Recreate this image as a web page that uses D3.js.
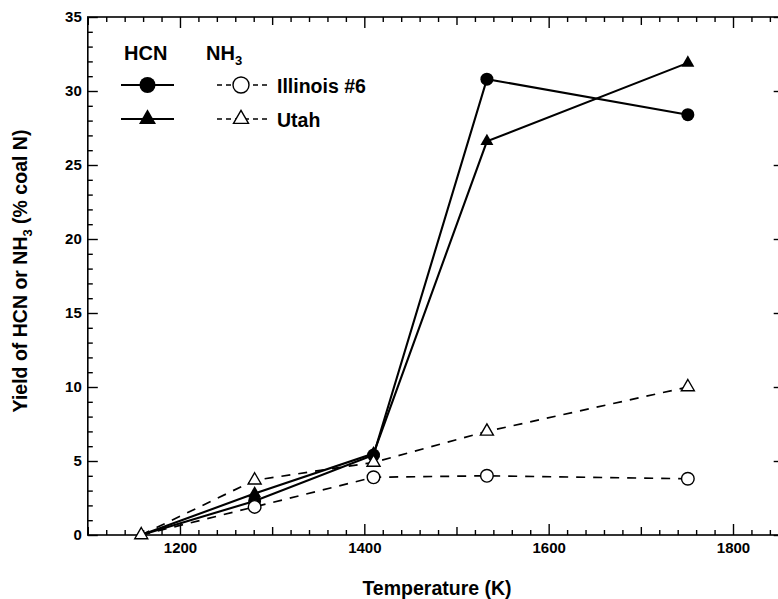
<!DOCTYPE html>
<html>
<head>
<meta charset="utf-8">
<script src="https://cdn.jsdelivr.net/npm/d3@7"></script>
<style>
  html, body { margin: 0; padding: 0; background: #fff; }
  svg { display: block; }
  text { font-family: "Liberation Sans", Arial, Helvetica, sans-serif; font-weight: bold; fill: #000; }
</style>
</head>
<body>
<svg id="chart" width="778" height="599"></svg>
<script>
// Temperature (K) of each measurement
const temps = [1158, 1281, 1410, 1533, 1751];

// Yields, % of coal nitrogen
const hcnIllinois = [0, 2.3, 5.4, 30.8, 28.4];
const hcnUtah     = [0, 2.8, 5.5, 26.6, 31.9];
const nh3Illinois = [0, 1.9, 3.9, 4.0, 3.8];
const nh3Utah     = [0, 3.7, 4.9, 7.0, 10.0];

// Axis ticks
const xMajorTicks = [1200, 1400, 1600, 1800];
const yMajorTicks = [0, 5, 10, 15, 20, 25, 30, 35];

const svg = d3.select("#chart");

const x = d3.scaleLinear().domain([1100, 1855]).range([87.8, 783.7]);
const y = d3.scaleLinear().domain([0, 35]).range([535, 17]);

const xMid = d3.range(1100, 1856, 100).filter(v => !xMajorTicks.includes(v));
const xMinor = d3.range(1100, 1856, 20).filter(v => v % 100 !== 0);
const yMinor = d3.range(0, 36, 1).filter(v => v % 5 !== 0);

function styleAxis(g) {
  g.select(".domain").remove();
  g.selectAll(".tick line").attr("stroke", "#000").attr("stroke-width", 1.4);
}

// Frame
svg.append("rect")
  .attr("x", x.range()[0]).attr("y", y.range()[1])
  .attr("width", x.range()[1] - x.range()[0])
  .attr("height", y.range()[0] - y.range()[1])
  .attr("fill", "none").attr("stroke", "#000").attr("stroke-width", 1.6);

// Bottom axis: labelled ticks, mid ticks, minor ticks (all pointing inward)
const axisBottomG = svg.append("g").attr("transform", `translate(0,${y(0)})`);
axisBottomG.append("g").call(d3.axisBottom(x).tickValues(xMajorTicks).tickSizeInner(-11).tickSizeOuter(0).tickPadding(7).tickFormat(d3.format("d")))
  .call(styleAxis)
  .call(g => g.selectAll("text").attr("font-size", 15));
axisBottomG.append("g").call(d3.axisBottom(x).tickValues(xMid).tickSizeInner(-8).tickSizeOuter(0).tickFormat("")).call(styleAxis);
axisBottomG.append("g").call(d3.axisBottom(x).tickValues(xMinor).tickSizeInner(-5).tickSizeOuter(0).tickFormat("")).call(styleAxis);

// Top axis mirrors bottom ticks
const axisTopG = svg.append("g").attr("transform", `translate(0,${y(35)})`);
axisTopG.append("g").call(d3.axisTop(x).tickValues(xMajorTicks).tickSizeInner(-11).tickSizeOuter(0).tickFormat("")).call(styleAxis);
axisTopG.append("g").call(d3.axisTop(x).tickValues(xMid).tickSizeInner(-8).tickSizeOuter(0).tickFormat("")).call(styleAxis);
axisTopG.append("g").call(d3.axisTop(x).tickValues(xMinor).tickSizeInner(-5).tickSizeOuter(0).tickFormat("")).call(styleAxis);

// Left axis
const axisLeftG = svg.append("g").attr("transform", `translate(${x.range()[0]},0)`);
axisLeftG.append("g").call(d3.axisLeft(y).tickValues(yMajorTicks).tickSizeInner(-10).tickSizeOuter(0).tickPadding(6).tickFormat(d3.format("d")))
  .call(styleAxis)
  .call(g => g.selectAll("text").attr("font-size", 15));
axisLeftG.append("g").call(d3.axisLeft(y).tickValues(yMinor).tickSizeInner(-5).tickSizeOuter(0).tickFormat("")).call(styleAxis);

// Right axis
const axisRightG = svg.append("g").attr("transform", `translate(${x.range()[1]},0)`);
axisRightG.append("g").call(d3.axisRight(y).tickValues(yMajorTicks).tickSizeInner(-10).tickSizeOuter(0).tickFormat("")).call(styleAxis);
axisRightG.append("g").call(d3.axisRight(y).tickValues(yMinor).tickSizeInner(-5).tickSizeOuter(0).tickFormat("")).call(styleAxis);

// Axis titles
svg.append("text")
  .attr("x", 437).attr("y", 595)
  .attr("text-anchor", "middle").attr("font-size", 19.5)
  .text("Temperature (K)");

const yTitle = svg.append("text")
  .attr("transform", "translate(27,271) rotate(-90)")
  .attr("text-anchor", "middle").attr("font-size", 19.5);
yTitle.append("tspan").text("Yield of HCN or NH");
yTitle.append("tspan").attr("font-size", 13).attr("dy", 5).text("3");
yTitle.append("tspan").attr("dy", -5).text(" (% coal N)");

// Series; the shared zero-yield origin carries a single (open triangle) marker
const series = [
  { name: "hcnIllinois", values: hcnIllinois, dashed: false, shape: "circle",   filled: true,  markOrigin: false },
  { name: "hcnUtah",     values: hcnUtah,     dashed: false, shape: "triangle", filled: true,  markOrigin: false },
  { name: "nh3Illinois", values: nh3Illinois, dashed: true,  shape: "circle",   filled: false, markOrigin: false },
  { name: "nh3Utah",     values: nh3Utah,     dashed: true,  shape: "triangle", filled: false, markOrigin: true }
];

const line = d3.line().x(d => x(d[0])).y(d => y(d[1]));

const plot = svg.append("g");

// Lines: dashed NH3 underneath, solid HCN above
series.slice().sort((a, b) => b.dashed - a.dashed).forEach(s => {
  plot.append("path")
    .datum(temps.map((t, i) => [t, s.values[i]]))
    .attr("d", line)
    .attr("fill", "none")
    .attr("stroke", "#000")
    .attr("stroke-width", s.dashed ? 1.7 : 2.1)
    .attr("stroke-dasharray", s.dashed ? "9,8" : null);
});

function drawMarker(g, s, cx, cy, big) {
  if (s.shape === "circle") {
    g.append("circle")
      .attr("cx", cx).attr("cy", cy)
      .attr("r", big ? 8 : (s.filled ? 6.5 : 6.3))
      .attr("fill", s.filled ? "#000" : "#fff")
      .attr("stroke", "#000").attr("stroke-width", s.filled ? 0 : 1.4);
  } else {
    const side = big ? (s.filled ? 17 : 15) : 13;
    g.append("path")
      .attr("transform", `translate(${cx},${cy})`)
      .attr("d", d3.symbol().type(d3.symbolTriangle).size(Math.sqrt(3) / 4 * side * side)())
      .attr("fill", s.filled ? "#000" : "#fff")
      .attr("stroke", "#000").attr("stroke-width", s.filled ? 0 : 1.4);
  }
}

// Markers: filled first, open ones on top
[...series.filter(s => s.filled), ...series.filter(s => !s.filled)].forEach(s => {
  temps.forEach((t, i) => {
    if (i === 0 && !s.markOrigin) return;
    drawMarker(plot, s, x(t), y(s.values[i]), false);
  });
});

// Legend
const legend = svg.append("g");
legend.append("text").attr("x", 124).attr("y", 60).attr("font-size", 20).text("HCN");
const nh = legend.append("text").attr("x", 206).attr("y", 60).attr("font-size", 20);
nh.append("tspan").text("NH");
nh.append("tspan").attr("font-size", 13).attr("dy", 5).text("3");

const legendRows = [
  { solid: series[0], open: series[2], label: "Illinois #6", cy: 85 },
  { solid: series[1], open: series[3], label: "Utah", cy: 119 }
];
legendRows.forEach(r => {
  legend.append("line")
    .attr("x1", 121).attr("x2", 174).attr("y1", r.cy).attr("y2", r.cy)
    .attr("stroke", "#000").attr("stroke-width", 2.1);
  drawMarker(legend, r.solid, 147.5, r.cy, true);
  legend.append("line")
    .attr("x1", 217).attr("x2", 270).attr("y1", r.cy).attr("y2", r.cy)
    .attr("stroke", "#000").attr("stroke-width", 1.5)
    .attr("stroke-dasharray", "5,4");
  drawMarker(legend, r.open, 241, r.cy, true);
  legend.append("text").attr("x", 277).attr("y", r.cy + 8).attr("font-size", 19.5).text(r.label);
});
</script>
</body>
</html>
